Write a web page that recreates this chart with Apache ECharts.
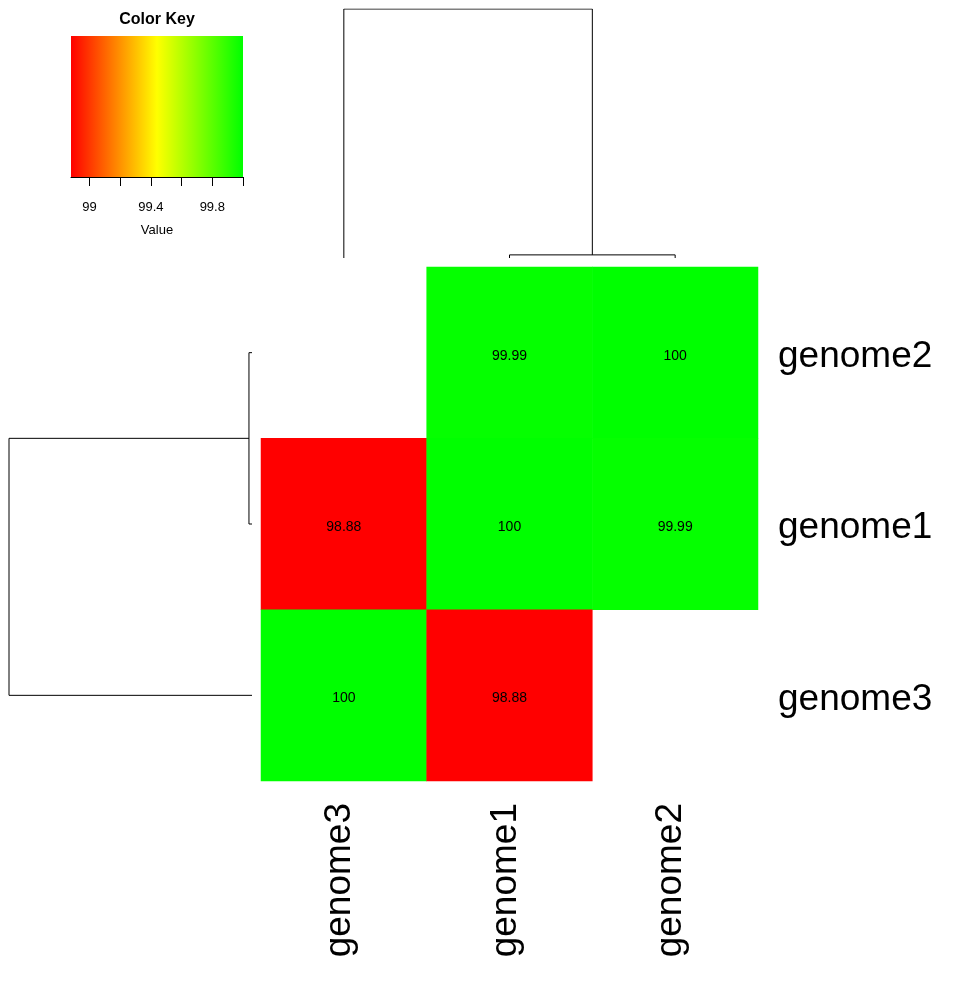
<!DOCTYPE html>
<html>
<head>
<meta charset="utf-8">
<script src="https://cdn.jsdelivr.net/npm/echarts@6/dist/echarts.min.js"></script>
<style>html,body{margin:0;padding:0;background:#fff}#c{width:958px;height:982px}</style>
</head>
<body>
<div id="c"></div>
<script>
// ---- data ----
var colLabels = ['genome3', 'genome1', 'genome2'];
var rowLabels = ['genome2', 'genome1', 'genome3']; // top to bottom
var rowGenome2 = [null, 99.99, 100];
var rowGenome1 = [98.88, 100, 99.99];
var rowGenome3 = [100, 98.88, null];
var matrix = [rowGenome2, rowGenome1, rowGenome3];
var keyRange = [98.88, 100];
var keyTicks = [99, 99.2, 99.4, 99.6, 99.8, 100];
var keyTickLabels = [99, 99.4, 99.8];
var keyColors = ['#ff0000', '#ffff00', '#00ff00'];
// dendrogram merge heights
var colTree = {h: 1.12, children: ['genome3', {h: 0.014, children: ['genome1', 'genome2']}]};
var rowTree = {h: 1.12, children: [{h: 0.014, children: ['genome2', 'genome1']}, 'genome3']};

// ---- build ----
var heatData = [];
matrix.forEach(function (row, r) {
  row.forEach(function (v, c) {
    if (v !== null) heatData.push([c, r, v]);
  });
});

function buildDendro(tree, leaves) {
  var segs = [];
  function walk(node) {
    if (typeof node === 'string') return {pos: leaves.indexOf(node) + 0.5, h: 0};
    var a = walk(node.children[0]);
    var b = walk(node.children[1]);
    segs.push([[a.pos, a.h], [a.pos, node.h], [b.pos, node.h], [b.pos, b.h]]);
    return {pos: (a.pos + b.pos) / 2, h: node.h};
  }
  walk(tree);
  return segs;
}
var colSegs = buildDendro(colTree, colLabels).map(function (s) { return {coords: s}; });
var rowSegs = buildDendro(rowTree, rowLabels).map(function (s) {
  return {coords: s.map(function (p) { return [p[1], p[0]]; })};
});

var FONT = 'Liberation Sans, Arial, sans-serif';
var chart = echarts.init(document.getElementById('c'), null, {renderer: 'canvas'});
var hidden = {show: false};
chart.setOption({
  backgroundColor: '#fff',
  animation: false,
  textStyle: {fontFamily: FONT},
  graphic: [{
    type: 'text', x: 157, y: 20,
    style: {text: 'Color Key', font: 'bold 16px ' + FONT, fill: '#000', textAlign: 'center', textVerticalAlign: 'middle'}
  }],
  grid: [
    {left: 261, top: 267, width: 497, height: 514},
    {left: 261, top: 9, width: 497, height: 249},
    {left: 9, top: 267, width: 243, height: 514},
    {left: 71, top: 36, width: 172, height: 141}
  ],
  xAxis: [
    {type: 'category', gridIndex: 0, data: colLabels, position: 'bottom',
     axisLine: hidden, axisTick: hidden, splitLine: hidden,
     axisLabel: {rotate: 90, margin: 22, color: '#000', fontFamily: FONT,
                 formatter: function (v) { return '{a|' + v + '}'; },
                 rich: {a: {fontSize: 37, fontFamily: FONT, color: '#000', padding: [0, 0, 8, 0]}}}},
    {type: 'value', gridIndex: 1, min: 0, max: colLabels.length, show: false},
    {type: 'value', gridIndex: 2, min: 0, max: rowTree.h, inverse: true, show: false},
    {type: 'value', gridIndex: 3, min: keyRange[0], max: keyRange[1], position: 'bottom',
     splitLine: hidden,
     axisLine: {show: true, lineStyle: {color: '#000', width: 1}},
     axisTick: {show: true, length: 9, inside: false, customValues: keyTicks, lineStyle: {color: '#000'}},
     axisLabel: {show: true, customValues: keyTickLabels, fontSize: 13, margin: 24, color: '#000', fontFamily: FONT},
     name: 'Value', nameLocation: 'middle', nameGap: 47,
     nameTextStyle: {fontSize: 13, color: '#000', fontFamily: FONT}}
  ],
  yAxis: [
    {type: 'category', gridIndex: 0, data: rowLabels, inverse: true, position: 'right',
     axisLine: hidden, axisTick: hidden, splitLine: hidden,
     axisLabel: {margin: 20, color: '#000', fontFamily: FONT,
                 formatter: function (v) { return '{a|' + v + '}'; },
                 rich: {a: {fontSize: 37, fontFamily: FONT, color: '#000', padding: [8, 0, 0, 0]}}}},
    {type: 'value', gridIndex: 1, min: 0, max: colTree.h, show: false},
    {type: 'value', gridIndex: 2, min: 0, max: rowLabels.length, inverse: true, show: false},
    {type: 'value', gridIndex: 3, min: 0, max: 1, show: false}
  ],
  visualMap: {
    type: 'continuous', show: false, seriesIndex: 0,
    min: keyRange[0], max: keyRange[1], inRange: {color: keyColors}
  },
  series: [
    {type: 'heatmap', xAxisIndex: 0, yAxisIndex: 0, data: heatData,
     label: {show: true, fontSize: 14, color: '#000', fontFamily: FONT, offset: [0, 3],
             formatter: function (p) { return String(p.value[2]); }},
     itemStyle: {borderWidth: 0},
     emphasis: {disabled: true}},
    {type: 'lines', coordinateSystem: 'cartesian2d', xAxisIndex: 1, yAxisIndex: 1,
     polyline: true, data: colSegs, silent: true,
     lineStyle: {color: '#000', width: 1, opacity: 1}},
    {type: 'lines', coordinateSystem: 'cartesian2d', xAxisIndex: 2, yAxisIndex: 2,
     polyline: true, data: rowSegs, silent: true,
     lineStyle: {color: '#000', width: 1, opacity: 1}},
    {type: 'custom', xAxisIndex: 3, yAxisIndex: 3, silent: true,
     data: [[keyRange[0], keyRange[1]]],
     encode: {x: [0, 1]},
     renderItem: function (params, api) {
       var p0 = api.coord([api.value(0), 1]);
       var p1 = api.coord([api.value(1), 0]);
       return {
         type: 'rect',
         shape: {x: p0[0], y: p0[1], width: p1[0] - p0[0], height: p1[1] - p0[1]},
         style: {fill: new echarts.graphic.LinearGradient(0, 0, 1, 0, [
           {offset: 0, color: keyColors[0]},
           {offset: 0.5, color: keyColors[1]},
           {offset: 1, color: keyColors[2]}
         ])}
       };
     }}
  ]
});
</script>
</body>
</html>
